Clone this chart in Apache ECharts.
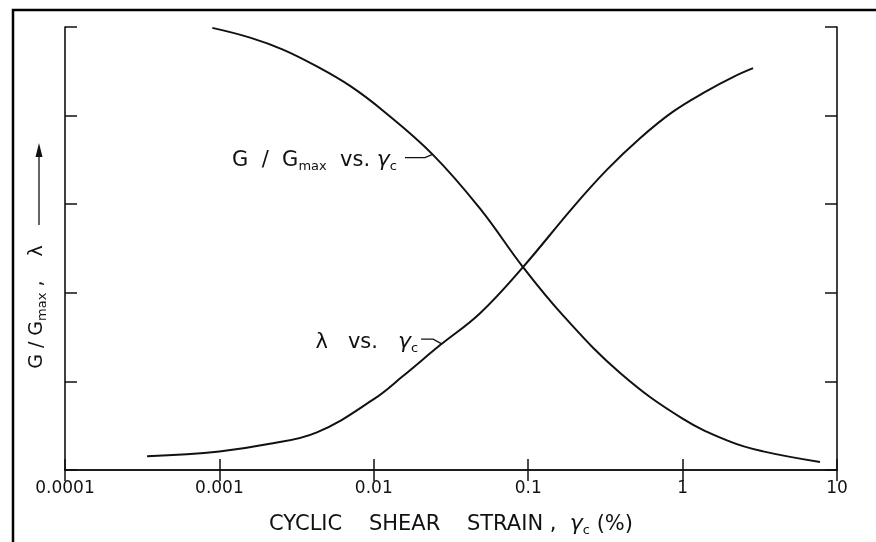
<!DOCTYPE html>
<html>
<head>
<meta charset="utf-8">
<script src="https://cdn.jsdelivr.net/npm/echarts@6/dist/echarts.min.js"></script>
<style>
  html, body { margin: 0; padding: 0; background: #fff; }
  #chart { width: 876px; height: 542px; }
</style>
</head>
<body>
<div id="chart"></div>
<script>
// strain (%) values, y normalised 0..1
const gStrain = [0.0009, 0.00158, 0.00258, 0.00428, 0.00702, 0.01148, 0.0241, 0.0488, 0.0925, 0.168, 0.394, 1.0, 2.03, 3.32, 7.76];
const gRatio = [0.998, 0.976, 0.949, 0.911, 0.867, 0.811, 0.712, 0.59, 0.458, 0.349, 0.219, 0.116, 0.064, 0.042, 0.018];

const dStrain = [0.00034, 0.001, 0.00203, 0.00428, 0.01, 0.01545, 0.0269, 0.0488, 0.0925, 0.195, 0.324, 0.53, 0.867, 1.44, 2.12, 2.86];
const dRatio = [0.031, 0.042, 0.058, 0.085, 0.16, 0.212, 0.282, 0.354, 0.458, 0.593, 0.678, 0.749, 0.809, 0.856, 0.887, 0.907];

const xTicks = ["0.0001", "0.001", "0.01", "0.1", "1", "10"];

const FONT = "DejaVu Sans";
const chart = echarts.init(document.getElementById("chart"));

function fmtLog(v) {
  const s = parseFloat(v.toPrecision(6)).toString();
  return xTicks.indexOf(s) >= 0 ? s : "";
}

const subStyle = { fontSize: 13, fontFamily: FONT, color: "#111", verticalAlign: "bottom", padding: [12, 0, 0, 0] };

function xAxisCommon(pos) {
  return {
    type: "log",
    logBase: 10,
    min: 0.0001,
    max: 10,
    position: pos,
    axisLine: { show: true, lineStyle: { color: "#111", width: 1.6 } },
    axisTick: { show: true, inside: true, length: 11, lineStyle: { color: "#111", width: 1.5 } },
    minorTick: { show: false },
    splitLine: { show: false },
  };
}

function yAxisCommon(pos) {
  return {
    type: "value",
    min: 0,
    max: 1,
    interval: 0.2,
    position: pos,
    axisLine: { show: true, lineStyle: { color: "#111", width: 1.6 } },
    axisTick: { show: true, inside: true, length: 12, lineStyle: { color: "#111", width: 1.5 } },
    axisLabel: { show: false },
    splitLine: { show: false },
  };
}

const option = {
  backgroundColor: "#fff",
  animation: false,
  grid: { left: 65, right: 39, top: 27, bottom: 65 },
  xAxis: [
    Object.assign(xAxisCommon("bottom"), {
      axisLabel: { show: true, formatter: fmtLog, fontSize: 17, fontFamily: FONT, color: "#111", margin: 10 },
      name: "CYCLIC    SHEAR    STRAIN ,  {g|γ}{sub|c} (%)",
      nameLocation: "middle",
      nameGap: 42,
      nameTextStyle: {
        fontSize: 21,
        fontFamily: FONT,
        color: "#111",
        rich: {
          g: { fontSize: 22, fontFamily: FONT, fontStyle: "italic", color: "#111" },
          sub: subStyle,
        },
      },
    }),
    Object.assign(xAxisCommon("top"), { axisLabel: { show: false } }),
  ],
  yAxis: [yAxisCommon("left"), yAxisCommon("right")],
  series: [
    {
      name: "G/Gmax",
      type: "line",
      smooth: 0.4,
      showSymbol: false,
      lineStyle: { color: "#111", width: 2 },
      data: gStrain.map((x, i) => [x, gRatio[i]]),
    },
    {
      name: "lambda",
      type: "line",
      smooth: 0.4,
      showSymbol: false,
      lineStyle: { color: "#111", width: 2 },
      data: dStrain.map((x, i) => [x, dRatio[i]]),
    },
  ],
};

chart.setOption(option);

// annotations anchored to points on the curves
const gAnchor = chart.convertToPixel({ xAxisIndex: 0, yAxisIndex: 0 }, [0.0238, 0.712]);
const dAnchor = chart.convertToPixel({ xAxisIndex: 0, yAxisIndex: 0 }, [0.0277, 0.284]);

const labelRich = {
  g: { fontSize: 22, fontFamily: FONT, fontStyle: "italic", color: "#111" },
  sub: subStyle,
};

chart.setOption({
  graphic: [
    {
      type: "rect",
      silent: true,
      shape: { x: 13, y: 10, width: 900, height: 600 },
      style: { fill: null, stroke: "#000", lineWidth: 2.5 },
    },
    {
      type: "text",
      x: gAnchor[0] - 35,
      y: gAnchor[1] + 6,
      style: {
        text: "G  /  G{sub|max}  vs. {g|γ}{sub|c}",
        fontSize: 21,
        fontFamily: FONT,
        fill: "#111",
        align: "right",
        verticalAlign: "middle",
        rich: labelRich,
      },
    },
    {
      type: "polyline",
      shape: { points: [[gAnchor[0] - 27, gAnchor[1] + 3], [gAnchor[0] - 7, gAnchor[1] + 3], [gAnchor[0], gAnchor[1]]] },
      style: { stroke: "#111", lineWidth: 1.3, fill: null },
    },
    {
      type: "text",
      x: dAnchor[0] - 24,
      y: dAnchor[1] - 2,
      style: {
        text: "λ   vs.   {g|γ}{sub|c}",
        fontSize: 21,
        fontFamily: FONT,
        fill: "#111",
        align: "right",
        verticalAlign: "middle",
        rich: labelRich,
      },
    },
    {
      type: "polyline",
      shape: { points: [[dAnchor[0] - 21, dAnchor[1] - 5], [dAnchor[0] - 9, dAnchor[1] - 5], [dAnchor[0], dAnchor[1]]] },
      style: { stroke: "#111", lineWidth: 1.3, fill: null },
    },
    // rotated y-axis caption with upward arrow
    {
      type: "text",
      x: 37,
      y: 307,
      rotation: Math.PI / 2,
      style: {
        text: "G / G{sub|max} ,    λ",
        fontSize: 19,
        fontFamily: FONT,
        fill: "#111",
        align: "center",
        verticalAlign: "middle",
        rich: { sub: subStyle },
      },
    },
    {
      type: "line",
      shape: { x1: 39, y1: 225, x2: 39, y2: 152 },
      style: { stroke: "#111", lineWidth: 1.3 },
    },
    {
      type: "polygon",
      shape: { points: [[39, 143], [35.5, 157], [42.5, 157]] },
      style: { fill: "#111" },
    },
  ],
});
</script>
</body>
</html>
